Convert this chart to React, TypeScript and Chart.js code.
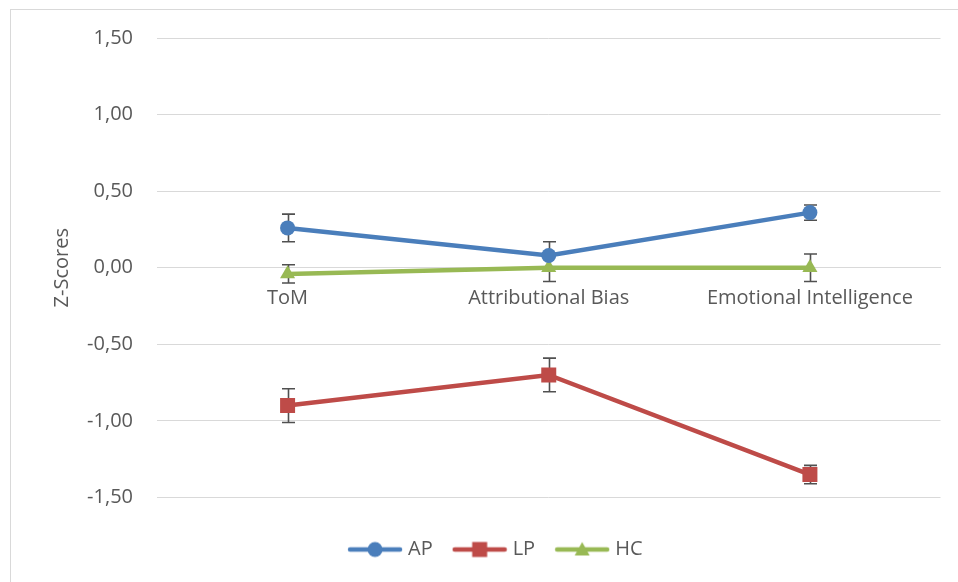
import React, { useEffect, useRef } from 'react';
import { Chart, registerables } from 'chart.js';

Chart.register(...registerables);

const categories = ['ToM', 'Attributional Bias', 'Emotional Intelligence'];
const seriesNames = ['AP', 'LP', 'HC'];
const apValues = [0.26, 0.08, 0.36];
const lpValues = [-0.9, -0.7, -1.35];
const hcValues = [-0.04, 0.0, 0.0];
const apErrors = [0.09, 0.09, 0.05];
const lpErrors = [0.11, 0.11, 0.06];
const hcErrors = [0.06, 0.09, 0.09];
const yTicks = [-1.5, -1.0, -0.5, 0, 0.5, 1.0, 1.5];

const COLORS = ['#4A7EBB', '#BE4B48', '#98B954'];
const STYLES = ['circle', 'rect', 'triangle'];
const RADII = [7.5, 10.6, 8.7];
const FONT = '"Open Sans", sans-serif';
const FS = 20;
const TEXT = '#595959';
const GRID = '#D9D9D9';

const L = 54;

function makeIcon(color: string, style: string) {
  const c = document.createElement('canvas');
  c.width = 56;
  c.height = 18;
  const ctx = c.getContext('2d')!;
  ctx.strokeStyle = color;
  ctx.fillStyle = color;
  ctx.lineWidth = 4.5;
  ctx.lineCap = 'round';
  ctx.beginPath();
  ctx.moveTo(3, 9);
  ctx.lineTo(53, 9);
  ctx.stroke();
  ctx.beginPath();
  if (style === 'circle') {
    ctx.arc(28, 9, 7.5, 0, Math.PI * 2);
  } else if (style === 'rect') {
    ctx.rect(20.5, 1.5, 15, 15);
  } else {
    ctx.moveTo(28, 1.5);
    ctx.lineTo(35.5, 15);
    ctx.lineTo(20.5, 15);
    ctx.closePath();
  }
  ctx.fill();
  return c;
}

const errorSets = [apErrors, lpErrors, hcErrors];

const errorBarPlugin = {
  id: 'errorBars',
  beforeDatasetsDraw(chart: any) {
    const { ctx } = chart;
    const xs = chart.scales.x;
    const ys = chart.scales.y;
    ctx.save();
    ctx.strokeStyle = '#505050';
    ctx.lineWidth = 1.6;
    chart.data.datasets.forEach((ds: any, di: number) => {
      const errs = errorSets[di];
      ds.data.forEach((v: number, i: number) => {
        const px = Math.round(xs.getPixelForValue(i)) + 0.5;
        const top = ys.getPixelForValue(v + errs[i]);
        const bot = ys.getPixelForValue(v - errs[i]);
        ctx.beginPath();
        ctx.moveTo(px, top);
        ctx.lineTo(px, bot);
        ctx.moveTo(px - 6.5, top);
        ctx.lineTo(px + 6.5, top);
        ctx.moveTo(px - 6.5, bot);
        ctx.lineTo(px + 6.5, bot);
        ctx.stroke();
      });
    });
    ctx.restore();
  },
};

export default function App() {
  const ref = useRef<HTMLCanvasElement | null>(null);

  useEffect(() => {
    if (!ref.current) return;
    const icons = seriesNames.map((_, i) => makeIcon(COLORS[i], STYLES[i]));
    const values = [apValues, lpValues, hcValues];
    const chart = new Chart(ref.current, {
      type: 'line',
      data: {
        labels: categories,
        datasets: seriesNames.map((name, i) => ({
          label: name,
          data: values[i],
          borderColor: COLORS[i],
          backgroundColor: COLORS[i],
          borderWidth: 4.5,
          pointStyle: STYLES[i] as any,
          pointRadius: RADII[i],
          pointHoverRadius: RADII[i],
          pointBorderWidth: 0,
          pointBackgroundColor: COLORS[i],
          tension: 0,
        })),
      },
      options: {
        responsive: false,
        animation: false,
        devicePixelRatio: 1,
        layout: { padding: { left: L, top: 38, right: 17.5, bottom: 12.5 } },
        plugins: {
          tooltip: { enabled: false },
          legend: {
            position: 'bottom',
            title: { display: true, text: ' ', font: { size: 10 }, padding: 3 },
            labels: {
              usePointStyle: true,
              pointStyleWidth: 46,
              padding: 24,
              color: TEXT,
              font: { family: FONT, size: FS },
              generateLabels: (ch: any) =>
                (Chart.defaults.plugins.legend.labels.generateLabels as any)(ch).map((l: any, i: number) => ({
                  ...l,
                  pointStyle: icons[i],
                  fontColor: TEXT,
                })),
            },
          },
        },
        scales: {
          x: {
            type: 'category',
            offset: true,
            position: { y: 0 } as any,
            grid: { display: false, drawTicks: false },
            border: { display: true, color: GRID, width: 1 },
            ticks: { color: TEXT, font: { family: FONT, size: FS }, padding: 19, maxRotation: 0, autoSkip: false },
          },
          y: {
            type: 'linear',
            min: -1.5,
            max: 1.5,
            afterBuildTicks: (s: any) => {
              s.ticks = yTicks.map((v) => ({ value: v }));
            },
            grid: { color: GRID, lineWidth: 1, drawTicks: false },
            border: { display: false },
            ticks: {
              color: TEXT,
              font: { family: FONT, size: FS },
              padding: 24,
              callback: (v: any) => Number(v).toFixed(2).replace('.', ','),
            },
            title: {
              display: true,
              text: 'Z-Scores',
              color: TEXT,
              font: { family: FONT, size: FS },
              padding: { top: 62 - L - FS * 0.6, bottom: 0 },
            },
            afterFit: (s: any) => {
              s.width = 157 - L;
            },
          },
        },
      },
      plugins: [errorBarPlugin],
    });
    return () => chart.destroy();
  }, []);

  return (
    <div style={{ position: 'fixed', left: 0, top: 0, width: 958, height: 582, overflow: 'hidden', background: '#fff' }}>
      <div
        style={{
          position: 'absolute',
          left: 10,
          top: 9,
          width: 1000,
          height: 1000,
          borderTop: `1px solid ${GRID}`,
          borderLeft: `1px solid ${GRID}`,
        }}
      />
      <canvas ref={ref} width={958} height={582} style={{ position: 'absolute', left: 0, top: 0, width: 958, height: 582 }} />
    </div>
  );
}
